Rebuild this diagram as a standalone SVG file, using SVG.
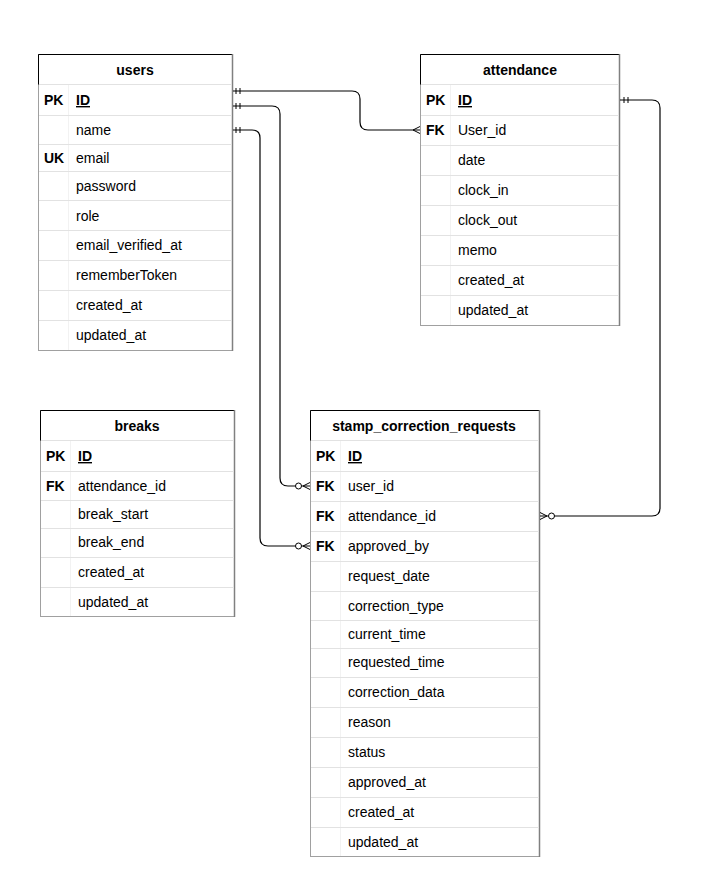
<svg xmlns="http://www.w3.org/2000/svg" width="720" height="890" viewBox="0 0 720 890">
<style>
text{font-family:"Liberation Sans",Arial,sans-serif;font-size:14px;fill:#000}
.h{font-weight:bold;text-anchor:middle}
.k{font-weight:bold}
.u{font-weight:bold;text-decoration:underline}
.box{fill:#fff;stroke:#a0a0a0;stroke-width:1}
.hd{fill:none;stroke:#000;stroke-width:1}
.rt{stroke:#808080;stroke-width:1.5}
.sep{stroke:#e2e2e2;stroke-width:1}
.col{stroke:#f2f2f2;stroke-width:1}
.c{fill:none;stroke:#000;stroke-width:1.2}
.m{fill:none;stroke:#000;stroke-width:1}
.o{fill:#fff;stroke:#000;stroke-width:1}
</style>
<rect width="720" height="890" fill="#fff"/>

<g id="users">
<rect class="box" x="38.5" y="54.5" width="194" height="296"/>
<line class="col" x1="68.5" y1="85" x2="68.5" y2="350"/>
<path class="hd" d="M38.5,84.5 V54.5 H232.5"/>
<line class="rt" x1="232.5" y1="54" x2="232.5" y2="351"/>
<g class="sep">
<line x1="39" y1="84.5" x2="232" y2="84.5"/>
<line x1="39" y1="115.5" x2="232" y2="115.5"/>
<line x1="39" y1="144.5" x2="232" y2="144.5"/>
<line x1="39" y1="171.5" x2="232" y2="171.5"/>
<line x1="39" y1="200.5" x2="232" y2="200.5"/>
<line x1="39" y1="230.5" x2="232" y2="230.5"/>
<line x1="39" y1="260.5" x2="232" y2="260.5"/>
<line x1="39" y1="290.5" x2="232" y2="290.5"/>
<line x1="39" y1="320.5" x2="232" y2="320.5"/>
</g>
<text class="h" x="135" y="75">users</text>
<text class="k" x="44" y="105">PK</text><text class="u" x="76" y="105">ID</text>
<text x="76" y="135">name</text>
<text class="k" x="44" y="163">UK</text><text x="76" y="163">email</text>
<text x="76" y="191">password</text>
<text x="76" y="221">role</text>
<text x="76" y="250">email_verified_at</text>
<text x="76" y="280">rememberToken</text>
<text x="76" y="310">created_at</text>
<text x="76" y="340">updated_at</text>
</g>

<g id="attendance">
<rect class="box" x="420.5" y="54.5" width="199" height="271"/>
<line class="col" x1="450.5" y1="85" x2="450.5" y2="325"/>
<path class="hd" d="M420.5,84.5 V54.5 H619.5"/>
<line class="rt" x1="619.5" y1="54" x2="619.5" y2="326"/>
<g class="sep">
<line x1="421" y1="84.5" x2="619" y2="84.5"/>
<line x1="421" y1="115.5" x2="619" y2="115.5"/>
<line x1="421" y1="145.5" x2="619" y2="145.5"/>
<line x1="421" y1="175.5" x2="619" y2="175.5"/>
<line x1="421" y1="205.5" x2="619" y2="205.5"/>
<line x1="421" y1="235.5" x2="619" y2="235.5"/>
<line x1="421" y1="265.5" x2="619" y2="265.5"/>
<line x1="421" y1="295.5" x2="619" y2="295.5"/>
</g>
<text class="h" x="520" y="75">attendance</text>
<text class="k" x="426" y="105">PK</text><text class="u" x="458" y="105">ID</text>
<text class="k" x="426" y="135">FK</text><text x="458" y="135">User_id</text>
<text x="458" y="165">date</text>
<text x="458" y="195">clock_in</text>
<text x="458" y="225">clock_out</text>
<text x="458" y="255">memo</text>
<text x="458" y="285">created_at</text>
<text x="458" y="315">updated_at</text>
</g>

<g id="breaks">
<rect class="box" x="40.5" y="410.5" width="194" height="206"/>
<line class="col" x1="70.5" y1="441" x2="70.5" y2="616"/>
<path class="hd" d="M40.5,440.5 V410.5 H234.5"/>
<line class="rt" x1="234.5" y1="410" x2="234.5" y2="617"/>
<g class="sep">
<line x1="41" y1="440.5" x2="234" y2="440.5"/>
<line x1="41" y1="471.5" x2="234" y2="471.5"/>
<line x1="41" y1="500.5" x2="234" y2="500.5"/>
<line x1="41" y1="528.5" x2="234" y2="528.5"/>
<line x1="41" y1="557.5" x2="234" y2="557.5"/>
<line x1="41" y1="587.5" x2="234" y2="587.5"/>
</g>
<text class="h" x="137" y="431">breaks</text>
<text class="k" x="46" y="461">PK</text><text class="u" x="78" y="461">ID</text>
<text class="k" x="46" y="491">FK</text><text x="78" y="491">attendance_id</text>
<text x="78" y="519">break_start</text>
<text x="78" y="547">break_end</text>
<text x="78" y="577">created_at</text>
<text x="78" y="607">updated_at</text>
</g>

<g id="stamp_correction_requests">
<rect class="box" x="310.5" y="410.5" width="229" height="446"/>
<line class="col" x1="340.5" y1="441" x2="340.5" y2="856"/>
<path class="hd" d="M310.5,440.5 V410.5 H539.5"/>
<line class="rt" x1="539.5" y1="410" x2="539.5" y2="857"/>
<g class="sep">
<line x1="311" y1="440.5" x2="539" y2="440.5"/>
<line x1="311" y1="471.5" x2="539" y2="471.5"/>
<line x1="311" y1="501.5" x2="539" y2="501.5"/>
<line x1="311" y1="531.5" x2="539" y2="531.5"/>
<line x1="311" y1="561.5" x2="539" y2="561.5"/>
<line x1="311" y1="591.5" x2="539" y2="591.5"/>
<line x1="311" y1="620.5" x2="539" y2="620.5"/>
<line x1="311" y1="648.5" x2="539" y2="648.5"/>
<line x1="311" y1="677.5" x2="539" y2="677.5"/>
<line x1="311" y1="707.5" x2="539" y2="707.5"/>
<line x1="311" y1="737.5" x2="539" y2="737.5"/>
<line x1="311" y1="767.5" x2="539" y2="767.5"/>
<line x1="311" y1="797.5" x2="539" y2="797.5"/>
<line x1="311" y1="827.5" x2="539" y2="827.5"/>
</g>
<text class="h" x="424" y="431">stamp_correction_requests</text>
<text class="k" x="316" y="461">PK</text><text class="u" x="348" y="461">ID</text>
<text class="k" x="316" y="491">FK</text><text x="348" y="491">user_id</text>
<text class="k" x="316" y="521">FK</text><text x="348" y="521">attendance_id</text>
<text class="k" x="316" y="551">FK</text><text x="348" y="551">approved_by</text>
<text x="348" y="581">request_date</text>
<text x="348" y="611">correction_type</text>
<text x="348" y="639">current_time</text>
<text x="348" y="667">requested_time</text>
<text x="348" y="697">correction_data</text>
<text x="348" y="727">reason</text>
<text x="348" y="757">status</text>
<text x="348" y="787">approved_at</text>
<text x="348" y="817">created_at</text>
<text x="348" y="847">updated_at</text>
</g>

<g id="connectors">
<!-- users.ID -> attendance.User_id -->
<path class="c" d="M233,91 H352 Q360,91 360,99 V122 Q360,130 368,130 H420"/>
<path class="m" d="M236,88 V94 M240,88 V94"/>
<path class="m" d="M420,126.5 L413,130 L420,133.5"/>
<!-- users.ID -> scr.user_id -->
<path class="c" d="M233,106 H272 Q280,106 280,114 V478 Q280,486 288,486 H310"/>
<path class="m" d="M236,103 V109 M240,103 V109"/>
<circle class="o" cx="298.5" cy="486" r="3"/>
<path class="m" d="M310,482.5 L303,486 L310,489.5"/>
<!-- users.name -> scr.approved_by -->
<path class="c" d="M233,130 H252 Q260,130 260,138 V538 Q260,546 268,546 H310"/>
<path class="m" d="M236,127 V133 M240,127 V133"/>
<circle class="o" cx="298.5" cy="546" r="3"/>
<path class="m" d="M310,542.5 L303,546 L310,549.5"/>
<!-- attendance.ID -> scr.attendance_id -->
<path class="c" d="M620,100 H652 Q660,100 660,108 V508 Q660,516 652,516 H540"/>
<path class="m" d="M624,97 V103 M628,97 V103"/>
<circle class="o" cx="551.5" cy="516" r="3"/>
<path class="m" d="M540,512.5 L547,516 L540,519.5"/>
</g>
</svg>
